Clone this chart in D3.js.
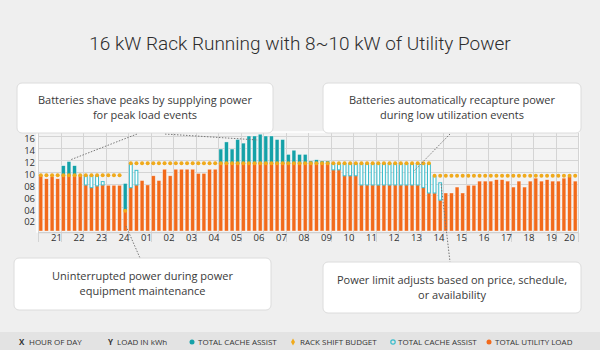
<!DOCTYPE html>
<html>
<head>
<meta charset="utf-8">
<script src="https://cdn.jsdelivr.net/npm/d3@7"></script>
<style>
  html, body { margin: 0; padding: 0; background: #efefef; }
  svg { display: block; font-family: "Open Sans", sans-serif; }
</style>
</head>
<body>
<div id="chart"></div>
<script>
// x axis: hour of day, 4 readings per hour
const hours = ["21","22","23","24","01","02","03","04","05","06","07","08",
               "09","10","11","12","13","14","15","16","17","18","19","20"];
const yTicks = [2, 4, 6, 8, 10, 12, 14, 16];

// total utility load (orange), kWh
const utilityLoad = [
  9.3, 8.8, 9.2, 8.8, 9.4, 9.4, 9.4, 9.3,
  7.75, 7.3, 7.6, 7.75, 7.7, 7.7, 7.7, 3.4,
  7.3, 7.75, 8.5, 7.75, 9.3, 8.5, 10.4, 9.3,
  10.4, 10.4, 10.4, 10.4, 9.7, 9.7, 10.4, 10.4,
  11.4, 11.4, 11.4, 11.4, 11.4, 11.4, 11.4, 11.4,
  11.4, 11.4, 11.4, 11.4, 11.4, 11.4, 11.4, 11.4,
  11.4, 11.4, 11.4, 11.4, 10.3, 10.3, 9.3, 9.3,
  9.3, 7.75, 7.75, 7.75, 7.75, 7.75, 7.75, 7.75,
  7.75, 7.75, 7.75, 7.75, 7.3, 6.4, 6.4, 5.2,
  6.4, 6.4, 7.4, 6.4, 7.7, 7.7, 8.4, 8.4,
  8.4, 8.65, 8.65, 8.4, 7.4, 8.4, 7.4, 8.4,
  8.9, 8.4, 8.65, 8.4, 8.4, 8.9, 9.2, 8.4
];

// total cache assist, discharge (solid teal): top of the stack, null = none
const cacheAssist = [
  null, null, null, null, 11.0, 11.7, 11.0, null,
  null, null, null, null, null, null, null, 8.0,
  null, null, null, null, null, null, null, null,
  null, null, null, null, null, null, null, null,
  13.8, 15.0, 13.8, 15.4, 14.8, 16.0, 16.0, 16.3,
  16.0, 16.0, 15.4, 15.4, 12.9, 13.6, 12.9, 12.9,
  11.8, 12.0, 11.8, 11.8, null, null, null, null,
  null, null, null, null, null, null, null, null,
  null, null, null, null, null, null, null, null,
  null, null, null, null, null, null, null, null,
  null, null, null, null, null, null, null, null,
  null, null, null, null, null, null, null, null
];

// total cache assist, recharge (hollow cyan): top of the stack, null = none
const cacheRecharge = [
  null, null, null, null, null, null, null, null,
  9.4, 9.4, 9.4, 8.4, null, null, null, null,
  11.4, 10.3, null, null, null, null, null, null,
  null, null, null, null, null, null, null, null,
  null, null, null, null, null, null, null, null,
  null, null, null, null, null, null, null, null,
  null, null, null, null, 11.4, 11.4, 11.4, 11.4,
  11.4, 11.4, 11.4, 11.4, 11.4, 11.4, 11.4, 11.4,
  11.4, 11.4, 11.4, 11.4, 11.4, 11.4, 9.3, 8.2,
  null, null, null, null, null, null, null, null,
  null, null, null, null, null, null, null, null,
  null, null, null, null, null, null, null, null
];

// rack shift budget (gold markers)
const shiftBudget = [
  9.4, 9.4, 9.4, 9.4, 9.4, 9.4, 9.4, 9.4,
  9.4, 9.4, 9.4, 9.4, 9.4, 9.4, 9.4, 3.4,
  11.4, 11.4, 11.4, 11.4, 11.4, 11.4, 11.4, 11.4,
  11.4, 11.4, 11.4, 11.4, 11.4, 11.4, 11.4, 11.4,
  11.4, 11.4, 11.4, 11.4, 11.4, 11.4, 11.4, 11.4,
  11.4, 11.4, 11.4, 11.4, 11.4, 11.4, 11.4, 11.4,
  11.4, 11.4, 11.4, 11.4, 11.4, 11.4, 11.4, 11.4,
  11.4, 11.4, 11.4, 11.4, 11.4, 11.4, 11.4, 11.4,
  11.4, 11.4, 11.4, 11.4, 11.4, 11.4, 9.3, 9.3,
  9.3, 9.3, 9.3, 9.3, 9.3, 9.3, 9.3, 9.3,
  9.3, 9.3, 9.3, 9.3, 9.3, 9.3, 9.3, 9.3,
  9.3, 9.3, 9.3, 9.3, 9.3, 9.3, 9.3, 9.3
];

const callouts = [
  { x: 17, y: 83, w: 256, h: 50, lines: ["Batteries shave peaks by supplying power", "for peak load events"] },
  { x: 323, y: 83, w: 258, h: 50, lines: ["Batteries automatically recapture power", "during low utilization events"] },
  { x: 14, y: 258, w: 257, h: 52, lines: ["Uninterrupted power during power", "equipment maintenance"] },
  { x: 323, y: 262, w: 258, h: 51, lines: ["Power limit adjusts based on price, schedule,", "or availability"] }
];

const ORANGE = "#f26a1b", TEAL = "#14a1a8", CYAN = "#39bccb", GOLD = "#f0aa1c";

const width = 600, height = 350;
const plot = { left: 38, right: 578, top: 133, bottom: 231 };

const svg = d3.select("#chart").append("svg")
  .attr("width", width).attr("height", height);

svg.append("rect").attr("width", width).attr("height", height).attr("fill", "#efefef");

// title
svg.append("text")
  .attr("x", 300).attr("y", 50)
  .attr("text-anchor", "middle")
  .attr("font-family", "Roboto, sans-serif")
  .attr("font-weight", 300)
  .attr("font-size", 19)
  .attr("fill", "#2d2d2d")
  .text("16 kW Rack Running with 8~10 kW of Utility Power");

const idx = d3.range(utilityLoad.length);
const x = d3.scaleBand().domain(idx).range([plot.left, plot.right]).paddingInner(0.32).paddingOuter(0.16);
const xh = d3.scaleBand().domain(hours).range([plot.left, plot.right]);
const y = d3.scaleLinear().domain([0, 16]).range([plot.bottom, 136]);

// plot frame + grid
svg.append("rect")
  .attr("x", plot.left - 1).attr("y", plot.top - 1)
  .attr("width", plot.right - plot.left + 2).attr("height", plot.bottom - plot.top + 2)
  .attr("fill", "#f3f3f3").attr("stroke", "#fff").attr("stroke-width", 1.5);

const grid = svg.append("g").attr("stroke", "#d4d4d4").attr("stroke-width", 1);
grid.selectAll("line.h").data(yTicks).join("line")
  .attr("class", "h")
  .attr("x1", plot.left).attr("x2", plot.right)
  .attr("y1", d => Math.round(y(d)) + 0.5).attr("y2", d => Math.round(y(d)) + 0.5);
grid.selectAll("line.v").data(hours.concat(["end"])).join("line")
  .attr("class", "v")
  .attr("x1", (d, i) => Math.round(plot.left + i * xh.bandwidth()) + 0.5)
  .attr("x2", (d, i) => Math.round(plot.left + i * xh.bandwidth()) + 0.5)
  .attr("y1", plot.top).attr("y2", 242);

svg.append("line")
  .attr("x1", plot.left).attr("x2", plot.right)
  .attr("y1", plot.bottom + 1.5).attr("y2", plot.bottom + 1.5)
  .attr("stroke", "#cfcfcf").attr("stroke-width", 1.5);

// y tick labels
svg.append("g").selectAll("text").data(yTicks).join("text")
  .attr("x", 35).attr("y", d => y(d) + 3)
  .attr("dy", "0.35em")
  .attr("text-anchor", "end")
  .attr("font-size", 9.5)
  .attr("fill", "#333")
  .text(d => d3.format("02d")(d));

// x tick labels
svg.append("g").selectAll("text").data(hours).join("text")
  .attr("x", d => Math.min(xh(d) + 18.5, 569.5))
  .attr("y", 241)
  .attr("text-anchor", "middle")
  .attr("font-size", 9.5)
  .attr("fill", "#333")
  .text(d => d);

const bars = svg.append("g");

// utility load
bars.selectAll("rect.load").data(idx).join("rect")
  .attr("class", "load")
  .attr("x", i => x(i)).attr("width", x.bandwidth())
  .attr("y", i => y(utilityLoad[i]))
  .attr("height", i => y(0) - y(utilityLoad[i]))
  .attr("fill", ORANGE)
  .attr("stroke", "#fff").attr("stroke-opacity", 0.6).attr("stroke-width", 0.6);

// discharge above the load
bars.selectAll("rect.assist").data(idx.filter(i => cacheAssist[i] != null)).join("rect")
  .attr("class", "assist")
  .attr("x", i => x(i)).attr("width", x.bandwidth())
  .attr("y", i => y(cacheAssist[i]))
  .attr("height", i => y(utilityLoad[i]) - y(cacheAssist[i]))
  .attr("fill", TEAL)
  .attr("stroke", "#fff").attr("stroke-opacity", 0.6).attr("stroke-width", 0.6);

// recharge, hollow
bars.selectAll("rect.recharge").data(idx.filter(i => cacheRecharge[i] != null)).join("rect")
  .attr("class", "recharge")
  .attr("x", i => x(i) + 0.5).attr("width", x.bandwidth() - 1)
  .attr("y", i => y(cacheRecharge[i]) + 0.5)
  .attr("height", i => y(utilityLoad[i]) - y(cacheRecharge[i]) - 0.5)
  .attr("fill", "#fff")
  .attr("stroke", CYAN).attr("stroke-width", 1);

// budget markers
bars.selectAll("circle.budget").data(idx).join("circle")
  .attr("class", "budget")
  .attr("cx", i => x(i) + x.bandwidth() / 2)
  .attr("cy", i => y(shiftBudget[i]))
  .attr("r", 2)
  .attr("fill", GOLD);

// leader lines
const leaders = [
  [137, 134, 70, 160], [165, 134, 258, 140],
  [450, 134, 414, 171],
  [126, 226, 140, 258],
  [441, 184, 450, 262]
];
svg.append("g").selectAll("line").data(leaders).join("line")
  .attr("x1", d => d[0]).attr("y1", d => d[1])
  .attr("x2", d => d[2]).attr("y2", d => d[3])
  .attr("stroke", "#777").attr("stroke-width", 1)
  .attr("stroke-dasharray", "1.5,1.5");

// callout boxes
const cg = svg.append("g").selectAll("g").data(callouts).join("g")
  .attr("transform", d => `translate(${d.x},${d.y})`);
cg.append("rect")
  .attr("width", d => d.w).attr("height", d => d.h)
  .attr("rx", 5)
  .attr("fill", "#fff").attr("stroke", "#dcdcdc");
cg.selectAll("text").data(d => d.lines.map((t, k) => ({ t, k, d }))).join("text")
  .attr("x", o => o.d.w / 2)
  .attr("y", o => o.d.h / 2 - 7.5 + o.k * 15)
  .attr("dy", "0.35em")
  .attr("text-anchor", "middle")
  .attr("font-size", 11)
  .attr("fill", "#3a3a3a")
  .text(o => o.t);

// legend strip
svg.append("rect").attr("x", 0).attr("y", 332).attr("width", width).attr("height", 18).attr("fill", "#e3e3e3");
const lg = svg.append("g").attr("font-size", 8).attr("fill", "#333");
lg.append("text").attr("x", 19).attr("y", 345).attr("font-weight", 700).text("X");
lg.append("text").attr("x", 29).attr("y", 345).text("HOUR OF DAY");
lg.append("text").attr("x", 108).attr("y", 345).attr("font-weight", 700).text("Y");
lg.append("text").attr("x", 117).attr("y", 345).text("LOAD IN kWh");
lg.append("circle").attr("cx", 192).attr("cy", 342).attr("r", 2.5).attr("fill", TEAL);
lg.append("text").attr("x", 198).attr("y", 345).text("TOTAL CACHE ASSIST");
lg.append("path").attr("transform", "translate(293,342)").attr("d", d3.symbol(d3.symbolDiamond, 14)).attr("fill", GOLD);
lg.append("text").attr("x", 300).attr("y", 345).text("RACK SHIFT BUDGET");
lg.append("circle").attr("cx", 393).attr("cy", 342).attr("r", 2.2).attr("fill", "none").attr("stroke", CYAN).attr("stroke-width", 1.2);
lg.append("text").attr("x", 398).attr("y", 345).text("TOTAL CACHE ASSIST");
lg.append("circle").attr("cx", 489).attr("cy", 342).attr("r", 2.5).attr("fill", ORANGE);
lg.append("text").attr("x", 495).attr("y", 345).text("TOTAL UTILITY LOAD");
</script>
</body>
</html>
